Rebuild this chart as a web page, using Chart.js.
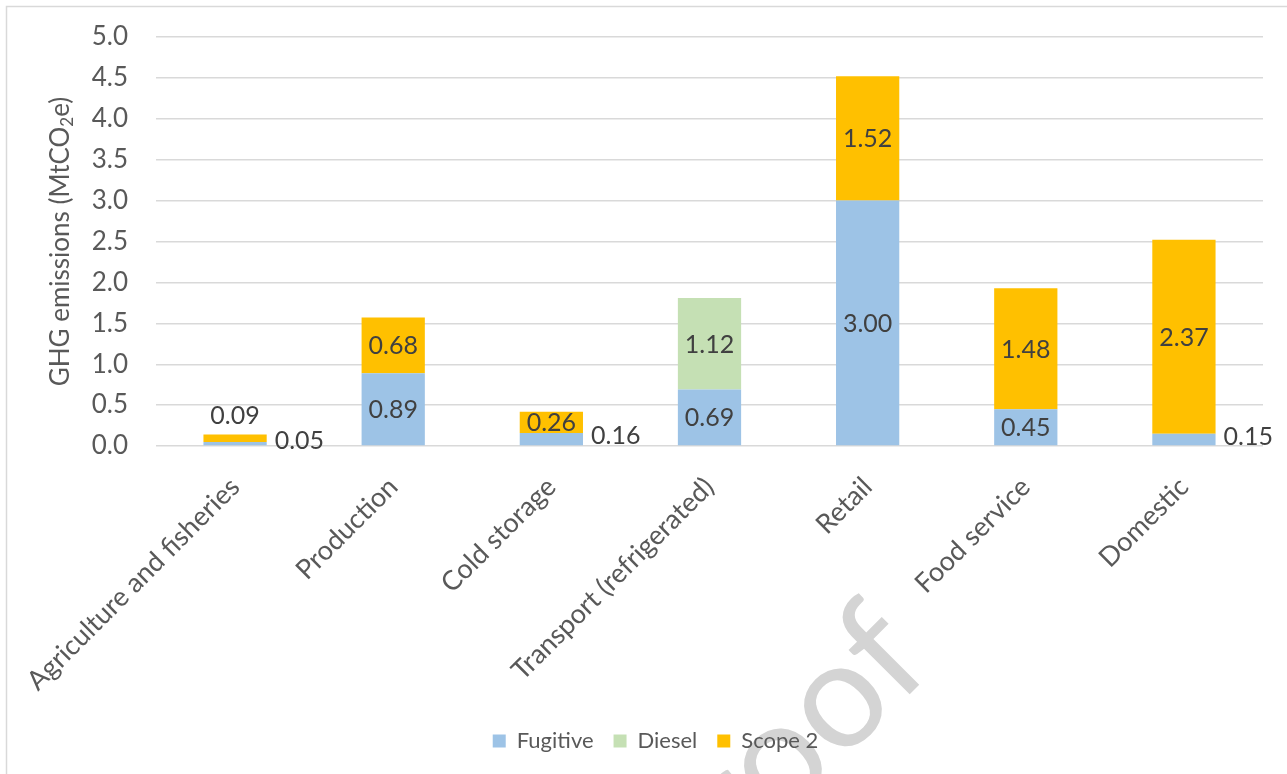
<!DOCTYPE html>
<html lang="en">
<head>
    <meta charset="UTF-8">
    <title>GHG emissions by sector</title>
    <style>
        html, body {
            margin: 0;
            padding: 0;
            background: #fff;
        }
        #wrap {
            width: 1287px;
            height: 774px;
        }
    </style>
    <script src="https://cdn.jsdelivr.net/npm/chart.js"></script>
</head>
<body>
<div id="wrap"><canvas id="chart" width="1287" height="774"></canvas></div>

<script>
    const categories = ['Agriculture and fisheries', 'Production', 'Cold storage',
        'Transport (refrigerated)', 'Retail', 'Food service', 'Domestic'];
    const fugitive = [0.05, 0.89, 0.16, 0.69, 3.00, 0.45, 0.15];
    const diesel   = [null, null, null, 1.12, null, null, null];
    const scope2   = [0.09, 0.68, 0.26, null, 1.52, 1.48, 2.37];
    const yTicks   = [0, 0.5, 1, 1.5, 2, 2.5, 3, 3.5, 4, 4.5, 5];
    // axis title split so the "2" can be drawn as a real subscript
    const yTitle   = ['GHG emissions (MtCO', '2', 'e)'];

    const FONT = 'Lato, "Open Sans", sans-serif';
    const GREY = '#595959';

    // light frame + "Proof" watermark, drawn under everything
    const backdrop = {
        id: 'backdrop',
        afterLayout(chart) {
            // legend sits a little right of centre in the original
            chart.legend.left += 14;
            chart.legend.right += 14;
        },
        beforeDraw(chart) {
            const ctx = chart.ctx;
            ctx.save();
            ctx.strokeStyle = '#d9d9d9';
            ctx.lineWidth = 1.5;
            ctx.beginPath();
            ctx.moveTo(6.5, chart.height + 5);
            ctx.lineTo(6.5, 6.5);
            ctx.lineTo(chart.width + 5, 6.5);
            ctx.stroke();

            ctx.translate(936, 668);
            ctx.rotate(-45 * Math.PI / 180);
            ctx.fillStyle = '#d4d4d4';
            ctx.font = '150px ' + FONT;
            ctx.textAlign = 'right';
            ctx.textBaseline = 'alphabetic';
            ctx.fillText('Proof', 0, 0);
            ctx.restore();
        },
        afterDraw(chart) {
            // rotated y-axis title with subscript, placed relative to the plot's left edge
            const ctx = chart.ctx;
            const area = chart.chartArea;
            const big = '26px ' + FONT, small = '17px ' + FONT;
            ctx.save();
            ctx.translate(area.left - 95, (area.top + area.bottom) / 2);
            ctx.rotate(-Math.PI / 2);
            ctx.fillStyle = GREY;
            ctx.textAlign = 'left';
            ctx.textBaseline = 'middle';
            ctx.font = big;
            const w1 = ctx.measureText(yTitle[0]).width;
            const w3 = ctx.measureText(yTitle[2]).width;
            ctx.font = small;
            const w2 = ctx.measureText(yTitle[1]).width;
            let x = -(w1 + w2 + w3) / 2;
            ctx.font = big;
            ctx.fillText(yTitle[0], x, 0);
            x += w1;
            ctx.font = small;
            ctx.fillText(yTitle[1], x, 7);
            x += w2;
            ctx.font = big;
            ctx.fillText(yTitle[2], x, 0);
            ctx.restore();
        }
    };

    // value labels: inside the segment, or beside / above it when the segment is too thin
    const valueLabels = {
        id: 'valueLabels',
        afterDatasetsDraw(chart) {
            const ctx = chart.ctx;
            ctx.save();
            ctx.font = '25px ' + FONT;
            ctx.fillStyle = '#404040';
            chart.data.datasets.forEach((ds, i) => {
                const meta = chart.getDatasetMeta(i);
                meta.data.forEach((bar, j) => {
                    const v = ds.data[j];
                    if (v === null || v === undefined) return;
                    const txt = v.toFixed(2);
                    const h = bar.base - bar.y;
                    if (h >= 18) {
                        ctx.textAlign = 'center';
                        ctx.textBaseline = 'middle';
                        ctx.fillText(txt, bar.x, bar.y + h / 2 + 1);
                    } else if (i === 0) {
                        ctx.textAlign = 'left';
                        ctx.textBaseline = 'middle';
                        ctx.fillText(txt, bar.x + bar.width / 2 + 8, bar.y + h / 2 - 3);
                    } else {
                        ctx.textAlign = 'center';
                        ctx.textBaseline = 'bottom';
                        ctx.fillText(txt, bar.x, bar.y - 6);
                    }
                });
            });
            ctx.restore();
        }
    };

    new Chart(document.getElementById('chart'), {
        type: 'bar',
        data: {
            labels: categories,
            datasets: [
                { label: 'Fugitive', data: fugitive, backgroundColor: '#9dc3e6' },
                { label: 'Diesel', data: diesel, backgroundColor: '#c5e0b4' },
                { label: 'Scope 2', data: scope2, backgroundColor: '#ffc000' }
            ]
        },
        options: {
            responsive: false,
            animation: false,
            layout: {
                padding: { left: 20, right: 24, top: 37, bottom: 12 }
            },
            datasets: {
                bar: { categoryPercentage: 1.0, barPercentage: 0.4 }
            },
            plugins: {
                legend: {
                    position: 'bottom',
                    labels: {
                        boxWidth: 13,
                        boxHeight: 13,
                        padding: 20,
                        color: GREY,
                        font: { family: FONT, size: 22 }
                    }
                },
                tooltip: { enabled: false }
            },
            scales: {
                x: {
                    stacked: true,
                    // invisible tick marks give the label gap without widening the side padding
                    grid: { display: false, drawTicks: true, tickLength: 21 },
                    border: { display: false },
                    ticks: {
                        color: GREY,
                        font: { family: FONT, size: 27 },
                        minRotation: 45,
                        maxRotation: 45,
                        padding: 4
                    },
                    afterFit(scale) { scale.height = 264; }
                },
                y: {
                    stacked: true,
                    min: 0,
                    max: 5,
                    afterBuildTicks(scale) {
                        scale.ticks = yTicks.map(v => ({ value: v }));
                    },
                    grid: {
                        color: '#d9d9d9',
                        lineWidth: 1.4,
                        drawTicks: true,
                        tickLength: 20,
                        tickColor: 'rgba(0,0,0,0)'
                    },
                    border: { display: false },
                    ticks: {
                        color: GREY,
                        font: { family: FONT, size: 26 },
                        padding: 8,
                        callback: value => Number(value).toFixed(1)
                    },
                    title: { display: false },
                    afterFit(scale) { scale.width = 136; }
                }
            }
        },
        plugins: [backdrop, valueLabels]
    });
</script>
</body>
</html>
